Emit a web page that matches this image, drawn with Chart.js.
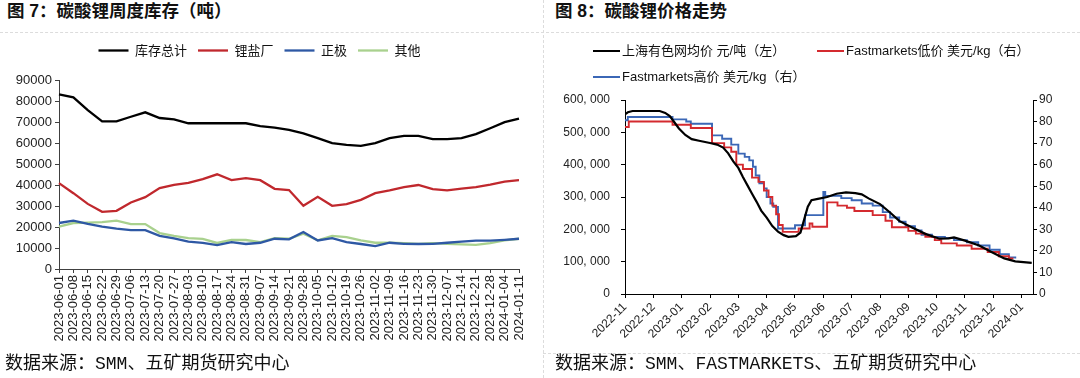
<!DOCTYPE html>
<html>
<head>
<meta charset="utf-8">
<script src="https://cdn.jsdelivr.net/npm/chart.js@4.4.0/dist/chart.umd.min.js"></script>
<style>
body{margin:0;width:1080px;height:378px;background:#fff;position:relative;overflow:hidden;font-family:"Noto Sans CJK SC",sans-serif;}
.title{position:absolute;top:3px;font-size:17.5px;line-height:1;font-weight:bold;color:#111;font-family:"Liberation Sans","Noto Sans CJK SC",sans-serif;white-space:nowrap;}
.src{position:absolute;top:355px;font-size:18px;line-height:1;color:#111;font-family:"Liberation Mono","Noto Sans CJK SC",monospace;white-space:nowrap;}
.hline{position:absolute;height:0;border-top:1px dashed #dcdcdc;}
.vline{position:absolute;width:0;border-left:1px dashed #dcdcdc;}
canvas{position:absolute;top:33px;}
.lg{position:absolute;font-size:13px;line-height:14px;color:#111;font-family:"Liberation Sans","Noto Sans CJK SC",sans-serif;white-space:nowrap;}
.lg i{display:inline-block;width:27px;height:0;border-top:2.5px solid;vertical-align:middle;margin-right:2px;position:relative;top:-1px;}
</style>
</head>
<body>
<div class="title" style="left:7px">图 7：碳酸锂周度库存（吨）</div>
<div class="title" style="left:555px">图 8：碳酸锂价格走势</div>
<div class="hline" style="left:0;width:1080px;top:32px"></div>
<div class="vline" style="left:543px;top:0;height:378px"></div>
<div class="hline" style="left:543px;width:537px;top:353px"></div>

<canvas id="inv" width="540" height="322" style="left:0"></canvas>
<canvas id="price" width="540" height="322" style="left:540px"></canvas>

<div class="lg" style="left:593px;top:44px"><i style="color:#000"></i>上海有色网均价 元/吨（左）</div>
<div class="lg" style="left:817px;top:44px"><i style="color:#d42a2f"></i>Fastmarkets低价 美元/kg（右）</div>
<div class="lg" style="left:593px;top:70px"><i style="color:#3b67b6"></i>Fastmarkets高价 美元/kg（右）</div>

<div class="src" style="left:5px">数据来源：SMM、五矿期货研究中心</div>
<div class="src" style="left:555px">数据来源：SMM、FASTMARKETS、五矿期货研究中心</div>

<script>
// 图7 周度库存
var weekLabels = ["2023-06-01","2023-06-08","2023-06-15","2023-06-22","2023-06-29","2023-07-06","2023-07-13",
  "2023-07-20","2023-07-27","2023-08-03","2023-08-10","2023-08-17","2023-08-24","2023-08-31","2023-09-07",
  "2023-09-14","2023-09-21","2023-09-28","2023-10-05","2023-10-12","2023-10-19","2023-10-26","2023-11-02",
  "2023-11-09","2023-11-16","2023-11-23","2023-11-30","2023-12-07","2023-12-14","2023-12-21","2023-12-28",
  "2024-01-04","2024-01-11"];
var totalStock = [83200,81700,75700,70300,70300,72500,74600,71900,71300,69400,69400,69400,69400,69400,68000,
  67300,66200,64600,62300,59900,59100,58600,59900,62300,63400,63400,61800,61800,62300,64200,67000,69900,71600];
var saltStock = [40900,36100,31000,27200,27700,31700,34200,38500,40100,41000,42800,45100,42300,43300,42300,
  38200,37600,30100,34400,30100,30900,32900,36100,37400,39000,40000,38000,37400,38300,39000,40200,41600,42300];
var cathodeStock = [21900,23000,21500,20200,19200,18500,18500,15800,14600,13000,12400,11400,12800,11900,12500,
  14400,14100,17600,13600,14700,12800,11900,10900,12500,12000,11900,12000,12500,13000,13500,13500,13900,14400];
var otherStock = [20200,21900,22100,22300,23000,21400,21400,17100,15800,14700,14300,12400,13900,13800,12800,
  14700,14400,16800,13700,15800,15200,13600,12500,12500,12300,12000,12300,12000,11700,11500,12300,13600,14400];

// 图8 价格走势
var monthLabels = ["2022-11","2022-12","2023-01","2023-02","2023-03","2023-04","2023-05","2023-06",
  "2023-07","2023-08","2023-09","2023-10","2023-11","2023-12","2024-01"];
var smmDates = ["2022-11-01","2022-11-04","2022-11-09","2022-12-08","2022-12-14","2022-12-19","2022-12-23",
  "2022-12-29","2023-01-05","2023-01-12","2023-01-20","2023-02-01","2023-02-08","2023-02-14","2023-02-19",
  "2023-02-24","2023-03-01","2023-03-06","2023-03-11","2023-03-16","2023-03-21","2023-03-26","2023-04-01",
  "2023-04-07","2023-04-13","2023-04-19","2023-04-24","2023-05-02","2023-05-07","2023-05-11","2023-05-15",
  "2023-05-19","2023-05-26","2023-06-05","2023-06-15","2023-06-25","2023-07-05","2023-07-12","2023-07-20",
  "2023-08-01","2023-08-12","2023-08-22","2023-09-05","2023-09-19","2023-10-04","2023-10-14","2023-10-20",
  "2023-11-01","2023-11-16","2023-11-29","2023-12-13","2023-12-25","2024-01-12"];
var smmPrice = [556000,562000,566000,566000,560000,550000,535000,512000,492000,479000,474000,467000,462000,
  453000,435000,410000,390000,362000,336000,310000,285000,258000,236000,210000,193000,182000,177000,179000,
  190000,230000,270000,290000,294000,300000,310000,314000,312000,308000,295000,278000,252000,226000,206000,
  186000,171000,172000,175000,165000,150000,130000,110000,101000,96500];
var fmLowDates = ["2022-11-01","2022-11-05","2022-12-22","2023-01-11","2023-02-03","2023-02-15","2023-02-22",
  "2023-02-27","2023-03-06","2023-03-16","2023-03-23","2023-03-29","2023-04-03","2023-04-07","2023-04-11",
  "2023-04-14","2023-04-18","2023-05-05","2023-05-17","2023-05-20","2023-06-05","2023-06-16","2023-06-26",
  "2023-07-04","2023-07-24","2023-08-07","2023-08-14","2023-09-01","2023-09-09","2023-09-19","2023-09-29",
  "2023-10-06","2023-10-23","2023-11-08","2023-11-25","2023-12-07","2023-12-18","2023-12-22"];
var fmLow = [77.5,80,78.5,77,70,68,66,60,58,54,52,48,45,41,37,32,28.8,30.4,32.7,31.2,42.5,41,40,38.5,36.6,
  34,31,29.3,28,26.5,25,23.5,22.5,21,19.5,17.5,16.5,16.1];
var fmHighDates = ["2022-11-01","2022-11-04","2022-12-22","2023-01-06","2023-01-11","2023-02-03","2023-02-13",
  "2023-02-22","2023-03-01","2023-03-08","2023-03-13","2023-03-17","2023-03-20","2023-03-24","2023-03-29",
  "2023-04-01","2023-04-05","2023-04-08","2023-04-13","2023-05-01","2023-05-12","2023-06-01","2023-06-03",
  "2023-06-20","2023-07-01","2023-07-12","2023-07-24","2023-08-04","2023-08-12","2023-08-22","2023-08-29",
  "2023-09-08","2023-09-15","2023-09-26","2023-10-10","2023-10-20","2023-11-03","2023-11-15","2023-11-27",
  "2023-12-08","2023-12-18","2023-12-25"];
var fmHigh = [80.6,82.1,81,80,79,73.6,72,69.3,65.1,63.6,62,59,55,51.4,49,45,42,40.4,30.4,31.9,36.6,47.4,45.5,
  44.5,43.5,42,41,38,35.5,33.5,31.5,29.5,27.5,26.5,26,25,24,22.5,20.5,18.5,17,16.5];

var tickFont = {family: "Liberation Sans", size: 13};
var axisGrid = function (c) { return {drawOnChartArea: false, drawTicks: true, tickLength: 4, color: c}; };

// legend height is fixed so the plot area lands where the original has it
function legendHeight(h) {
    return {
        id: 'legendHeight',
        beforeInit: function (chart) {
            var fit = chart.legend.fit;
            chart.legend.fit = function () { fit.call(this); this.height = h; };
        }
    };
}

// months since 2022-11-01, used as the x value of the price chart
function monthPos(d) {
    var p = d.split('-').map(Number);
    var dim = new Date(p[0], p[1], 0).getDate();
    return (p[0] - 2022) * 12 + (p[1] - 11) + (p[2] - 1) / dim;
}
function toPoints(dates, vals) {
    return dates.map(function (d, i) { return {x: monthPos(d), y: vals[i]}; });
}

var lineDs = function (label, data, color, w) {
    return {label: label, data: data, borderColor: color, backgroundColor: color, borderWidth: w,
        pointRadius: 0, tension: 0, fill: false};
};

new Chart(document.getElementById('inv'), {
    type: 'line',
    data: {
        labels: weekLabels,
        datasets: [
            lineDs('库存总计', totalStock, '#000000', 2.3),
            lineDs('锂盐厂', saltStock, '#c0282d', 2.3),
            lineDs('正极', cathodeStock, '#2e58a4', 2.3),
            lineDs('其他', otherStock, '#a9d18e', 2.3)
        ]
    },
    options: {
        responsive: false,
        animation: false,
        devicePixelRatio: 1,
        layout: {padding: {left: 0, right: 21, top: 0, bottom: 0}},
        plugins: {
            legend: {
                labels: {
                    usePointStyle: true, pointStyle: 'line', pointStyleWidth: 30,
                    font: {family: "Noto Sans CJK SC", size: 13}, color: '#111', padding: 11
                }
            },
            tooltip: {enabled: false}
        },
        scales: {
            x: {
                offset: false,
                grid: axisGrid('#404040'),
                border: {color: '#404040', width: 1},
                ticks: {autoSkip: false, maxRotation: 90, minRotation: 90, font: tickFont, color: '#222', padding: 2},
                afterFit: function (s) { s.height = 86; }
            },
            y: {
                min: 0, max: 90000,
                grid: axisGrid('#404040'),
                border: {color: '#404040', width: 1},
                ticks: {stepSize: 10000, font: tickFont, color: '#222', padding: 3,
                    callback: function (v) { return String(v); }},
                afterFit: function (s) { s.width = 59; }
            }
        }
    },
    plugins: [legendHeight(47)]
});

new Chart(document.getElementById('price'), {
    type: 'line',
    data: {
        datasets: [
            Object.assign(lineDs('上海有色网均价 元/吨（左）', toPoints(smmDates, smmPrice), '#000000', 2.2), {yAxisID: 'yL'}),
            Object.assign(lineDs('Fastmarkets低价 美元/kg（右）', toPoints(fmLowDates, fmLow), '#d42a2f', 1.9), {yAxisID: 'yR', stepped: true}),
            Object.assign(lineDs('Fastmarkets高价 美元/kg（右）', toPoints(fmHighDates, fmHigh), '#3b67b6', 1.9), {yAxisID: 'yR', stepped: true})
        ]
    },
    options: {
        responsive: false,
        animation: false,
        devicePixelRatio: 1,
        layout: {padding: {left: 0, right: 0, top: 67, bottom: 0}},
        plugins: {legend: {display: false}, tooltip: {enabled: false}},
        scales: {
            x: {
                type: 'linear', min: 0, max: 14.4,
                grid: axisGrid('#000'),
                border: {color: '#000', width: 1},
                ticks: {autoSkip: false, maxRotation: 45, minRotation: 45,
                    font: {family: "Liberation Sans", size: 12}, color: '#222', padding: 2,
                    callback: function (v) { return monthLabels[v] || ''; }},
                // one tick per month label, nothing at the axis end
                afterBuildTicks: function (s) {
                    s.ticks = monthLabels.map(function (m, i) { return {value: i}; });
                },
                afterFit: function (s) { s.height = 61; }
            },
            yL: {
                position: 'left', min: 0, max: 600000,
                grid: axisGrid('#000'),
                border: {color: '#000', width: 1},
                ticks: {stepSize: 100000, font: {family: "Liberation Sans", size: 12}, color: '#222', padding: 11,
                    callback: function (v) { return v.toLocaleString('en-US').replace(',', ', '); }},
                afterFit: function (s) { s.width = 85; }
            },
            yR: {
                position: 'right', min: 0, max: 90,
                grid: axisGrid('#000'),
                border: {color: '#000', width: 1},
                ticks: {stepSize: 10, font: {family: "Liberation Sans", size: 12}, color: '#222', padding: 2},
                afterFit: function (s) { s.width = 47; }
            }
        }
    }
});
</script>
</body>
</html>
